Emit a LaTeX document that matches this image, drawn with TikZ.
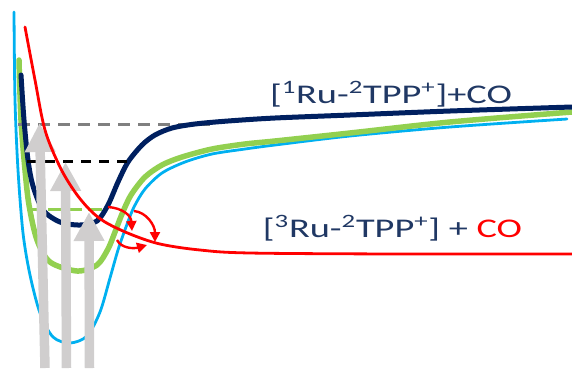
\documentclass[tikz,border=0pt]{standalone}
\usepackage{fontspec}
\setmainfont{Carlito}
\usetikzlibrary{arrows.meta}
\definecolor{cyanc}{HTML}{00B0F0}
\definecolor{greenc}{HTML}{92D050}
\definecolor{navyc}{HTML}{002060}
\definecolor{redc}{HTML}{FF0000}
\definecolor{arrowgray}{HTML}{D0CECE}
\definecolor{dashgray}{HTML}{808080}
\definecolor{textc}{HTML}{203864}
\tikzset{
  pes/.style={line cap=round, line join=round},
  bigarrow/.style={arrowgray, line width=9.5pt, -{Triangle[width=29pt,length=29pt]}},
  redarrow/.style={redc, line width=2.4pt, -{Triangle[width=10pt,length=10pt]}},
  lbl/.style={textc, font=\fontsize{27}{30}\selectfont, inner sep=0pt, anchor=base, xscale=1.42}
}
\begin{document}
\begin{tikzpicture}[x=1pt,y=-1pt]
\useasboundingbox (0,0) rectangle (572,368);
% potential curves
\draw[pes, cyanc, line width=2.8pt] plot[smooth, tension=0.5] coordinates {
 (14,12) (15,100) (18,170) (23,233) (30,275) (40,313) (53,337) (70,343) (87,336) (100,312) (110,278) (118,250) (126,227) (134,207) (145,189) (162,173) (185,162) (212,154) (245,149) (275,145) (350,136) (450,127) (567,119)};
\draw[pes, greenc, line width=5.5pt] plot[smooth, tension=0.5] coordinates {
 (19,60) (21,120) (25,170) (29,205) (37,240) (50,262) (77,271) (97,265) (108,249) (115,232) (122,214) (131,195) (145,177) (162,165) (182,157) (212,149) (245,144) (275,141) (350,133) (450,122) (572,112)};
\draw[dashgray, line width=3pt, dash pattern=on 12pt off 8pt] (18,124) -- (212,124);
\draw[pes, navyc, line width=5pt] plot[smooth, tension=0.5] coordinates {
 (21,75) (24,120) (28,160) (33,186) (43,210) (60,222) (80,225) (97,221) (108,205) (118,182) (128,162) (142,145) (155,135) (172,128) (195,124) (228,121) (275,118) (350,115) (450,111) (572,107)};
% dashed levels
\draw[black, line width=3pt, dash pattern=on 10pt off 8pt] (27,161) -- (130,161);
\draw[greenc, line width=3pt, dash pattern=on 14pt off 6pt] (28,209) -- (108,209);
% excitation arrows
\draw[bigarrow] (45,368) -- (39.5,123);
\draw[bigarrow] (66.5,368) -- (65.5,162);
\draw[bigarrow] (89.5,368) -- (89,212);
% red curve
\draw[pes, redc, line width=2.8pt] plot[smooth, tension=0.55] coordinates {
 (25,27) (35,80) (45,130) (60,167) (75,192) (90,210) (105,222) (130,234) (160,244) (200,250) (250,253) (400,254) (572,254)};
% small red arrows
\draw[redarrow] (108,207) .. controls (122,208) and (131,215) .. (132,231);
\draw[redarrow] (134,211) .. controls (146,212) and (155,225) .. (155,242);
\draw[redarrow] (117,240) .. controls (121,248) and (133,249) .. (147,245);
% labels
\node[lbl] (l1) at (391,103) {[\textsuperscript{1}Ru-\textsuperscript{2}TPP\textsuperscript{+}]+CO};
\node[lbl] (l2) at (392.5,237) {[\textsuperscript{3}Ru-\textsuperscript{2}TPP\textsuperscript{+}] + \textcolor{redc}{CO}};
\end{tikzpicture}
\end{document}
